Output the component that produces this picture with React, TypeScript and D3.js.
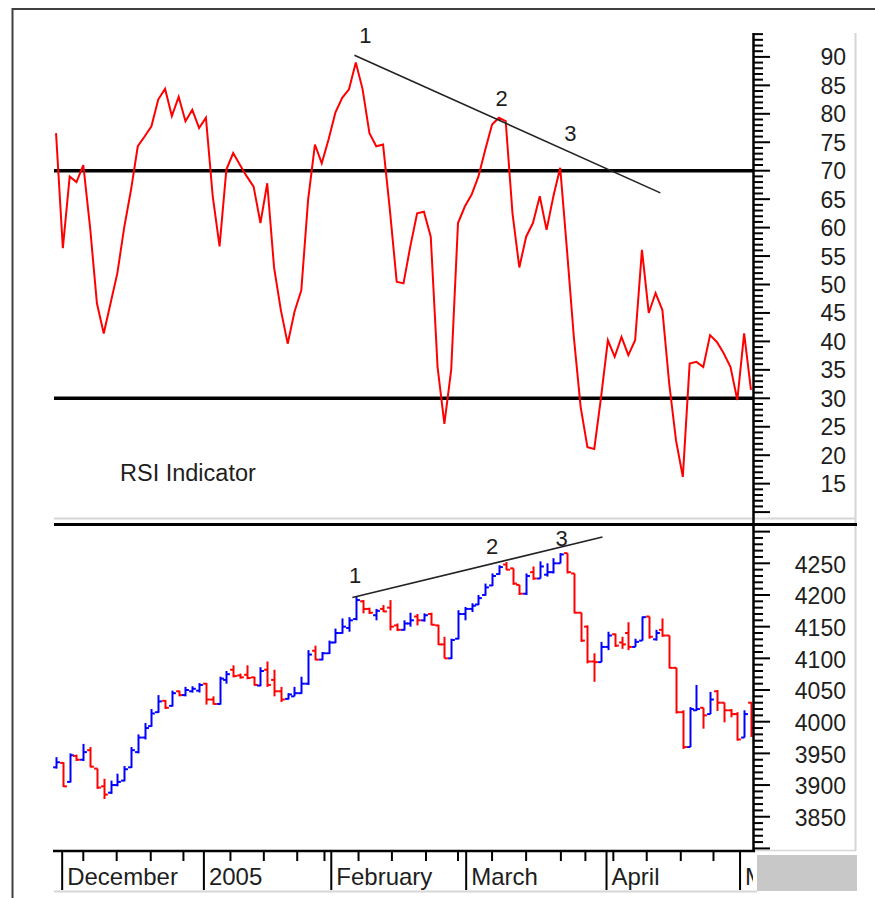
import React from 'react';
import * as d3 from 'd3';

// RSI value per trading day (bar index 0..102)
const rsiValues = [
  76.6, 56.4, 69, 68, 71, 60, 46.7, 41.4, 46.7, 52,
  60, 66.6, 74.3, 76, 77.8, 82.5, 84.4, 79.6, 83, 78.7,
  80.7, 77.5, 79.3, 65.5, 56.7, 70.2, 73.1, 71, 69, 67.2,
  60.8, 67.8, 53, 45.5, 39.6, 45.2, 49, 64.9, 74.6, 71.3,
  75.5, 80.2, 82.8, 84.3, 89, 84.3, 76.6, 74.3, 74.6, 63.1,
  50.5, 50.2, 56.7, 62.5, 62.8, 58.4, 35.5, 25.5, 35, 60.8,
  63.7, 65.8, 69, 73.7, 78.1, 79.3, 78.7, 62.5, 53, 58.4,
  60.8, 65.5, 59.6, 65.5, 70.5, 56, 40.8, 28.5, 21.4, 21.1,
  30.2, 40.2, 37.3, 40.8, 37.6, 40.2, 56.1, 45, 48.5, 45.5,
  32.6, 22.6, 16.2, 36.1, 36.4, 35.5, 41.1, 39.9, 37.9, 35.5,
  29.7, 41.4, 31.5,
];

// daily bars
const opens = [
  3928, 3935, 3905, 3946, 3940, 3955, 3926, 3898, 3888, 3900,
  3907, 3928, 3952, 3975, 3993, 4015, 4033, 4025, 4048, 4042,
  4048, 4049, 4060, 4035, 4028, 4066, 4082, 4073, 4074, 4070,
  4057, 4082, 4066, 4048, 4036, 4040, 4045, 4060, 4112, 4098,
  4108, 4125, 4140, 4148, 4162, 4190, 4178, 4168, 4178, 4180,
  4152, 4145, 4155, 4166, 4160, 4170, 4152, 4122, 4100, 4131,
  4170, 4178, 4185, 4200, 4215, 4233, 4248, 4242, 4216, 4202,
  4236, 4226, 4232, 4236, 4250, 4266, 4234, 4172, 4150, 4095,
  4094, 4118, 4138, 4125, 4140, 4118, 4128, 4166, 4130, 4145,
  4136, 4085, 4015, 3960, 4018, 4022, 4012, 4048, 4030, 4018,
  4012, 3975, 4030,
];
const highs = [
  3944, 3936, 3950, 3948, 3965, 3960, 3926, 3910, 3907, 3918,
  3930, 3960, 3980, 3998, 4020, 4042, 4034, 4049, 4049, 4055,
  4056, 4061, 4061, 4040, 4071, 4080, 4089, 4076, 4089, 4071,
  4086, 4095, 4082, 4055, 4045, 4055, 4071, 4113, 4120, 4110,
  4128, 4147, 4163, 4165, 4197, 4192, 4180, 4178, 4184, 4192,
  4155, 4160, 4172, 4170, 4171, 4172, 4153, 4134, 4131, 4176,
  4181, 4187, 4200, 4218, 4234, 4247, 4252, 4242, 4216, 4234,
  4245, 4253, 4250, 4258, 4266, 4266, 4234, 4172, 4152, 4108,
  4126, 4142, 4139, 4134, 4157, 4131, 4166, 4166, 4145, 4163,
  4136, 4085, 4018, 4023, 4058, 4022, 4047, 4050, 4030, 4020,
  4015, 4018, 4031,
];
const lows = [
  3926, 3897, 3904, 3938, 3938, 3928, 3894, 3878, 3886, 3898,
  3906, 3927, 3950, 3972, 3992, 4014, 4020, 4024, 4040, 4040,
  4046, 4046, 4027, 4027, 4027, 4060, 4070, 4068, 4067, 4057,
  4056, 4055, 4040, 4031, 4035, 4040, 4044, 4058, 4097, 4097,
  4107, 4124, 4139, 4142, 4160, 4171, 4170, 4160, 4173, 4144,
  4143, 4144, 4150, 4152, 4158, 4152, 4121, 4100, 4099, 4130,
  4160, 4173, 4184, 4199, 4214, 4232, 4239, 4216, 4200, 4200,
  4224, 4226, 4229, 4234, 4250, 4234, 4171, 4126, 4092, 4063,
  4094, 4113, 4118, 4115, 4113, 4118, 4128, 4131, 4128, 4134,
  4084, 4013, 3957, 3960, 4017, 3989, 4012, 4017, 3999, 4007,
  3970, 3975, 3976,
];
const closes = [
  3936, 3898, 3947, 3940, 3952, 3929, 3896, 3885, 3900, 3905,
  3925, 3955, 3975, 3990, 4013, 4032, 4022, 4045, 4042, 4050,
  4052, 4058, 4035, 4028, 4068, 4075, 4072, 4070, 4069, 4058,
  4080, 4058, 4048, 4035, 4043, 4045, 4060, 4106, 4098, 4108,
  4125, 4140, 4150, 4160, 4192, 4178, 4172, 4175, 4174, 4150,
  4145, 4155, 4160, 4160, 4168, 4153, 4122, 4100, 4129, 4170,
  4178, 4183, 4195, 4212, 4230, 4244, 4240, 4218, 4202, 4230,
  4226, 4245, 4236, 4250, 4264, 4236, 4172, 4128, 4095, 4094,
  4118, 4136, 4120, 4122, 4118, 4126, 4165, 4134, 4140, 4136,
  4085, 4015, 3960, 4020, 4020, 4010, 4035, 4030, 4018, 4012,
  3972, 4012, 3990,
];

// time axis (positions in bar index units)
const monthLabels = ['December', '2005', 'February', 'March', 'April', 'May'];
const monthTicks = [0.9, 21.7, 40.4, 60.2, 80.8, 100.4];
const weekTicks = [
  4, 8.9, 13.9, 18.7, 25.6, 30.5, 35.4, 39.4, 44.4, 49.3,
  54.3, 59, 64, 69, 74.1, 77.7, 81.8, 86.7, 91.7, 96.5,
];

const rsiLevels = [30, 70];
const rsiAxisLabels = [15, 20, 25, 30, 35, 40, 45, 50, 55, 60, 65, 70, 75, 80, 85, 90];
const priceAxisLabels = [3850, 3900, 3950, 4000, 4050, 4100, 4150, 4200, 4250];

// divergence trend lines and their point numbers
const rsiTrend = [[43.8, 90.3], [88.7, 66.1]];
const priceTrend = [[43.5, 4196], [80.2, 4291.5]];
const rsiPointNames = ['1', '2', '3'];
const rsiPointPos = [[45.4, 93.8], [65.4, 82.8], [75.5, 76.6]];
const pricePointPos = [[43.9, 4232], [64, 4277], [74.2, 4290]];

const FONT = '"Liberation Sans", Arial, sans-serif';
const INK = '#1e1e1e';

const App = () => {
  const x = d3.scaleLinear().domain([-0.3, 102.3]).range([54, 753]);
  const yR = d3.scaleLinear().domain([30, 70]).range([398.3, 170.7]);
  const yP = d3.scaleLinear().domain([4000, 4250]).range([721.7, 563.3]);

  const rsiLine = d3.line<number>()
    .x((_, i) => x(i))
    .y(d => yR(d));

  const rsiTicks = d3.range(10, 95);
  const priceTicks = d3.range(3800, 4301, 10);
  const axisX = 753.5;

  return (
    <div style={{ position: 'absolute', left: 0, top: 0 }}>
      <svg width={875} height={898} style={{ display: 'block', background: '#fff' }} fontFamily={FONT}>
        <defs>
          <clipPath id="xlab">
            <rect x={12} y={852} width={741} height={40} />
          </clipPath>
        </defs>

        {/* outer frame */}
        <line x1={12.5} y1={8} x2={12.5} y2={898} stroke="#404040" strokeWidth={2} />
        <line x1={12} y1={9} x2={875} y2={9} stroke="#404040" strokeWidth={2} />

        {/* light panel borders */}
        <line x1={855.5} y1={33} x2={855.5} y2={851} stroke="#d6d6d6" strokeWidth={2} />
        <line x1={54} y1={518.5} x2={856} y2={518.5} stroke="#d6d6d6" strokeWidth={2} />
        <line x1={754} y1={850.5} x2={856} y2={850.5} stroke="#d6d6d6" strokeWidth={1.5} />
        <line x1={54} y1={891.5} x2={757} y2={891.5} stroke="#d6d6d6" strokeWidth={2} />
        <rect x={757} y={855} width={100} height={36} fill="#c8c8c8" />

        {/* RSI panel */}
        {rsiLevels.map(l => (
          <line key={l} x1={54} x2={axisX} y1={yR(l)} y2={yR(l)} stroke="#000" strokeWidth={3.5} />
        ))}
        <path d={rsiLine(rsiValues) || ''} fill="none" stroke="#ff0000" strokeWidth={2} strokeLinejoin="miter" />
        <line
          x1={x(rsiTrend[0][0])} y1={yR(rsiTrend[0][1])}
          x2={x(rsiTrend[1][0])} y2={yR(rsiTrend[1][1])}
          stroke="#222" strokeWidth={1.6}
        />
        {rsiPointPos.map((p, k) => (
          <text key={k} x={x(p[0])} y={yR(p[1])} dy="0.36em" textAnchor="middle" fontSize={22} fill={INK}>
            {rsiPointNames[k]}
          </text>
        ))}
        <text x={120} y={481} fontSize={23.5} fill={INK}>RSI Indicator</text>

        {/* RSI axis */}
        {rsiTicks.map(t => (
          <line key={t} x1={axisX} x2={t % 5 === 0 ? 770 : 763} y1={yR(t)} y2={yR(t)} stroke="#000" strokeWidth={2} />
        ))}
        {rsiAxisLabels.map(t => (
          <text key={t} x={846} y={yR(t)} dy="0.37em" textAnchor="end" fontSize={23} fill={INK}>{t}</text>
        ))}

        {/* panel separator */}
        <line x1={54} y1={524.5} x2={857} y2={524.5} stroke="#000" strokeWidth={3} />

        {/* price bars */}
        {closes.map((c, i) => {
          const col = c >= opens[i] ? '#0000ff' : '#ff0000';
          const cx = Math.round(x(i)) + 0.5;
          return (
            <g key={i} stroke={col} strokeWidth={2}>
              <line x1={cx} x2={cx} y1={yP(highs[i])} y2={yP(lows[i])} />
              <line x1={cx - 3.4} x2={cx} y1={yP(opens[i])} y2={yP(opens[i])} />
              <line x1={cx} x2={cx + 3.4} y1={yP(c)} y2={yP(c)} />
            </g>
          );
        })}
        <line
          x1={x(priceTrend[0][0])} y1={yP(priceTrend[0][1])}
          x2={x(priceTrend[1][0])} y2={yP(priceTrend[1][1])}
          stroke="#222" strokeWidth={1.6}
        />
        {pricePointPos.map((p, k) => (
          <text key={k} x={x(p[0])} y={yP(p[1])} dy="0.36em" textAnchor="middle" fontSize={22} fill={INK}>
            {rsiPointNames[k]}
          </text>
        ))}

        {/* price axis */}
        {priceTicks.map(t => (
          <line key={t} x1={axisX} x2={t % 50 === 0 ? 770 : 763} y1={yP(t)} y2={yP(t)} stroke="#000" strokeWidth={2} />
        ))}
        {priceAxisLabels.map(t => (
          <text key={t} x={846} y={yP(t)} dy="0.4em" textAnchor="end" fontSize={23} fill={INK}>{t}</text>
        ))}

        {/* axis frame lines */}
        <line x1={axisX} x2={axisX} y1={33} y2={852} stroke="#000" strokeWidth={2.5} />
        <line x1={53} x2={755} y1={851} y2={851} stroke="#000" strokeWidth={2.5} />

        {/* time axis */}
        {weekTicks.map(t => (
          <line key={t} x1={x(t)} x2={x(t)} y1={851} y2={861} stroke="#000" strokeWidth={2} />
        ))}
        {monthTicks.map(t => (
          <line key={t} x1={x(t)} x2={x(t)} y1={851} y2={890} stroke="#000" strokeWidth={2} />
        ))}
        <g clipPath="url(#xlab)">
          {monthTicks.map((t, k) => (
            <text key={k} x={x(t) + 5} y={885} fontSize={24} fill={INK}>{monthLabels[k]}</text>
          ))}
        </g>
      </svg>
    </div>
  );
};

export default App;
